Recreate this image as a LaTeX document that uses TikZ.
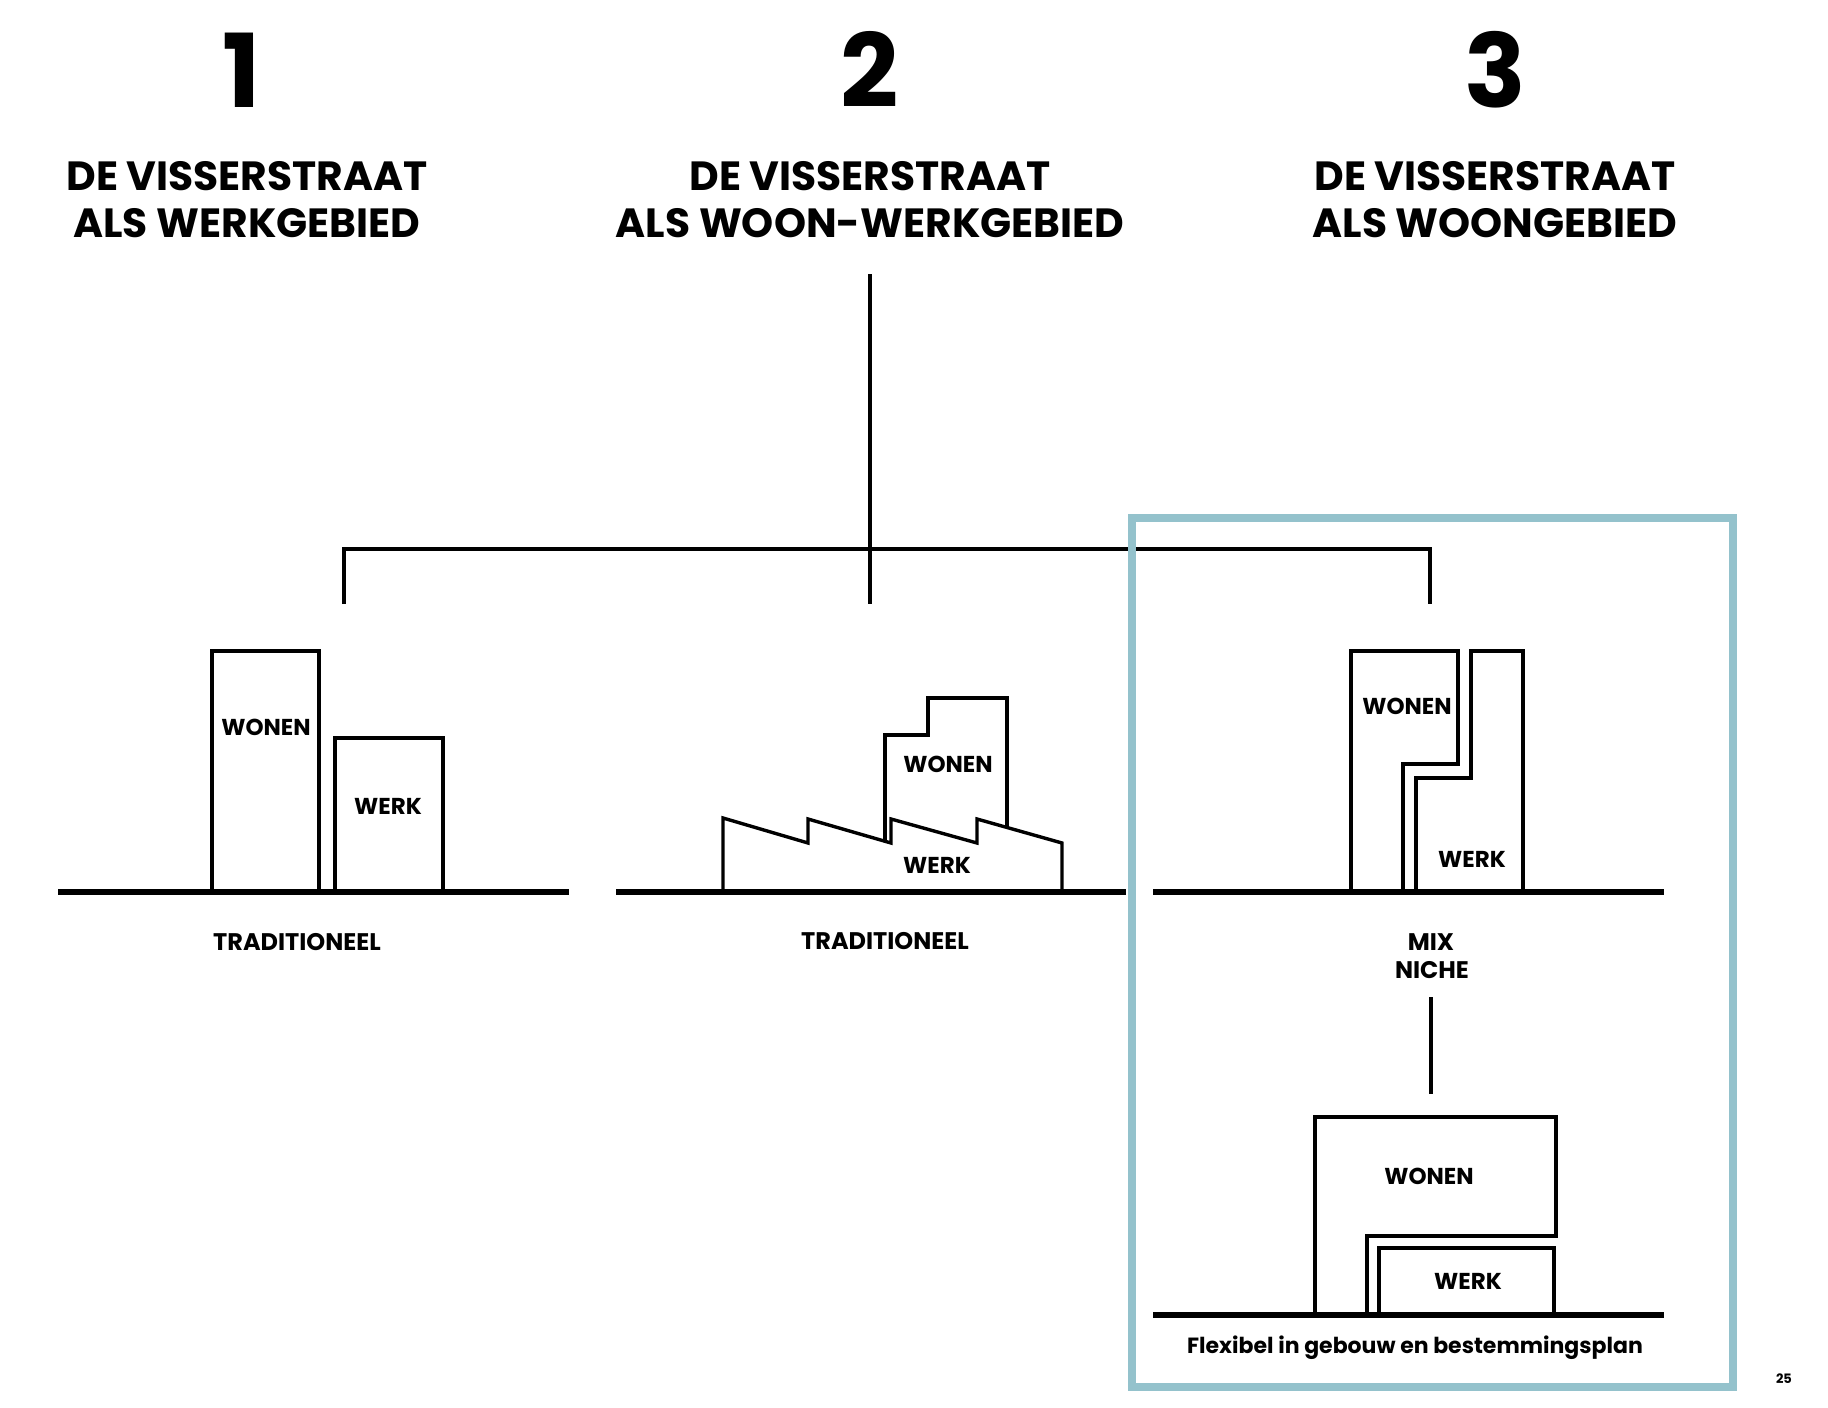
\documentclass[tikz,border=0pt]{standalone}
\usepackage{fontspec}
\setmainfont{Poppins}
\definecolor{kader}{RGB}{148,194,204}
\tikzset{
  nummer/.style={font=\fontsize{51}{51}\selectfont\bfseries, anchor=base, inner sep=0pt},
  titel/.style={font=\fontsize{20.4}{20}\selectfont\bfseries, anchor=base, inner sep=0pt},
  functie/.style={font=\fontsize{11.5}{12}\selectfont\bfseries, anchor=base, inner sep=0pt},
  onderschrift/.style={font=\fontsize{12}{14}\selectfont\bfseries, anchor=base, inner sep=0pt},
  bouw/.style={line width=1.7pt},
  grond/.style={line width=2.6pt},
  tak/.style={line width=1.6pt},
}
\begin{document}
\begin{tikzpicture}[x=0.5pt,y=-0.5pt]
    \useasboundingbox (0,0) rectangle (1828,1408);
    %% Kopjes
    \node[nummer] (n1) at (242,107) {1};
    \node[nummer] (n2) at (870,107) {2};
    \node[nummer] (n3) at (1495,107) {3};
    \node[titel] (t1a) at (247,190) {DE VISSERSTRAAT};
    \node[titel] (t1b) at (247,237) {ALS WERKGEBIED};
    \node[titel] (t2a) at (870,190) {DE VISSERSTRAAT};
    \node[titel] (t2b) at (870,237) {ALS WOON-WERKGEBIED};
    \node[titel] (t3a) at (1495,190) {DE VISSERSTRAAT};
    \node[titel] (t3b) at (1495,237) {ALS WOONGEBIED};
    %% Boom
    \coordinate (stam) at (870,274);
    \coordinate (stamvoet) at (870,604);
    \coordinate (knik1) at (344,549);
    \coordinate (tak1) at (344,604);
    \coordinate (knik3) at (1430,549);
    \coordinate (tak3) at (1430,604);
    \draw[tak] (stam) -- (stamvoet);
    \draw[tak] (tak1) -- (knik1) -- (knik3) -- (tak3);
    %% Kader
    \draw[kader, line width=4pt] (1132,518) rectangle (1733,1387);
    %% Maaiveld
    \draw[grond] (58,892) -- (569,892);
    \draw[grond] (616,892) -- (1126,892);
    \draw[grond] (1153,892) -- (1664,892);
    \draw[grond] (1153,1315) -- (1664,1315);
    %% Traditioneel, los
    \draw[bouw] (212,892) -- (212,651) -- (319,651) -- (319,892);
    \draw[bouw] (335,892) -- (335,738) -- (443,738) -- (443,892);
    \node[functie] (wonen1) at (266,735) {WONEN};
    \node[functie] (werk1) at (388,814) {WERK};
    \node[onderschrift] (trad1) at (297,950) {TRADITIONEEL};
    %% Traditioneel, gestapeld
    \draw[bouw] (723,892) -- (723,818) -- (808,843) -- (808,819) -- (891,843)
        -- (891,819) -- (977,843) -- (977,819) -- (1062,843) -- (1062,892);
    \draw[bouw] (885,841) -- (885,735) -- (928,735) -- (928,698) -- (1007,698) -- (1007,827);
    \node[functie] (wonen2) at (948,772) {WONEN};
    \node[functie] (werk2) at (937,873) {WERK};
    \node[onderschrift] (trad2) at (885,949) {TRADITIONEEL};
    %% Mix niche
    \draw[bouw] (1403,892) -- (1403,764) -- (1458,764) -- (1458,651) -- (1351,651) -- (1351,892);
    \draw[bouw] (1416,892) -- (1416,778) -- (1471,778) -- (1471,651) -- (1523,651) -- (1523,892);
    \node[functie] (wonen3) at (1407,714) {WONEN};
    \node[functie] (werk3) at (1472,867) {WERK};
    \node[onderschrift] (mix) at (1431,950) {MIX};
    \node[onderschrift] (niche) at (1432,978) {NICHE};
    \coordinate (nicheonder) at (1431,997);
    \coordinate (flexboven) at (1431,1094);
    \draw[tak] (nicheonder) -- (flexboven);
    %% Flexibel
    \draw[bouw] (1367,1315) -- (1367,1236) -- (1556,1236) -- (1556,1117) -- (1315,1117) -- (1315,1315);
    \draw[bouw] (1379,1315) -- (1379,1248) -- (1554,1248) -- (1554,1315);
    \node[functie] (wonen4) at (1429,1184) {WONEN};
    \node[functie] (werk4) at (1468,1289) {WERK};
    \node[onderschrift, font=\fontsize{11}{13}\selectfont\bfseries] (flex) at (1415,1353) {Flexibel in gebouw en bestemmingsplan};
    %% Paginanummer
    \node[font=\fontsize{6.5}{7}\selectfont\bfseries, anchor=base, inner sep=0pt] (pagina) at (1784,1383) {25};
\end{tikzpicture}
\end{document}
